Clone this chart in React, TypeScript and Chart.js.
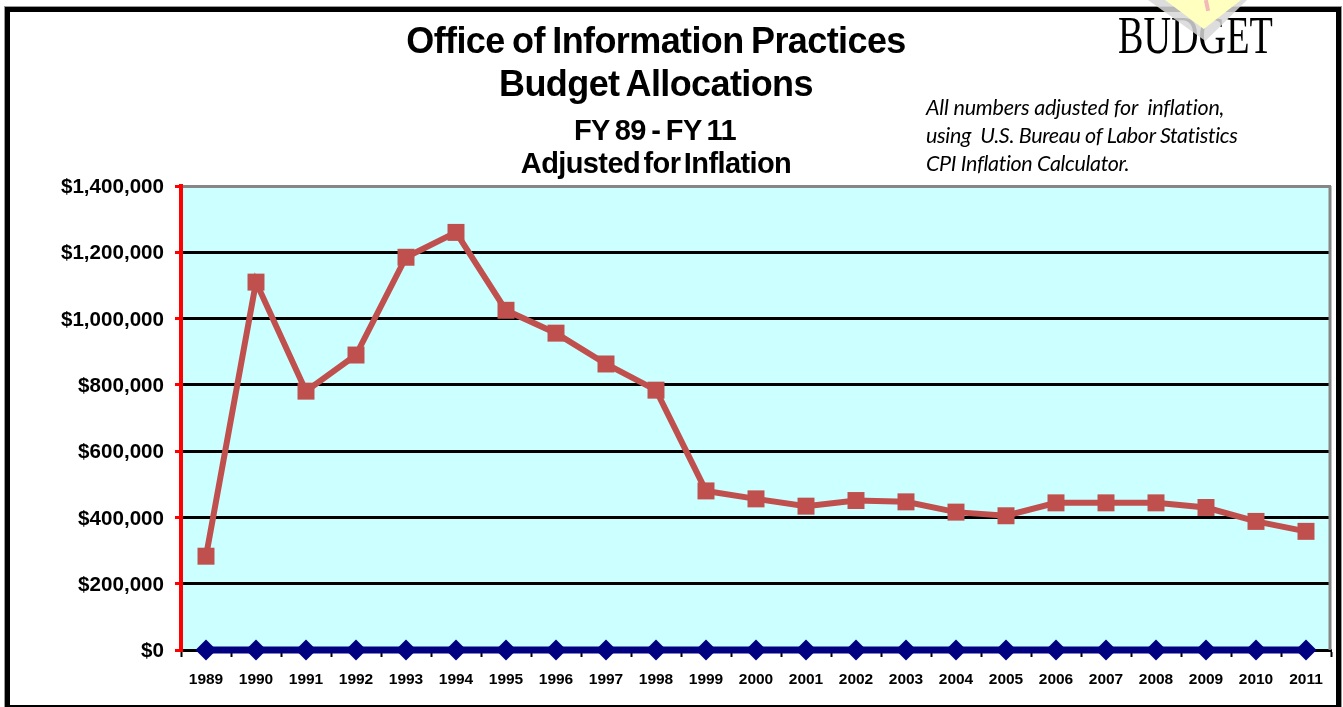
import React, { useEffect, useRef } from "react";
import { Chart, registerables } from "chart.js";

Chart.register(...registerables);

const years = ["1989","1990","1991","1992","1993","1994","1995","1996","1997","1998","1999","2000","2001","2002","2003","2004","2005","2006","2007","2008","2009","2010","2011"];
const allocations = [283000,1110000,781000,890000,1185000,1260000,1025000,956000,863000,784000,480000,456000,434000,451000,447000,416000,405000,444000,444000,444000,430000,388000,358000];
const baseline = [0,0,0,0,0,0,0,0,0,0,0,0,0,0,0,0,0,0,0,0,0,0,0];

const ARIAL = '"Liberation Sans", Arial, sans-serif';

const plotChrome = {
  id: "plotChrome",
  beforeDraw(chart: any) {
    const { ctx, chartArea: a } = chart;
    ctx.save();
    ctx.fillStyle = "#CCFFFF";
    ctx.fillRect(a.left, a.top, a.right - a.left, a.bottom - a.top);
    ctx.restore();
  },
  beforeDatasetsDraw(chart: any) {
    const { ctx, chartArea: a } = chart;
    ctx.save();
    ctx.strokeStyle = "#868686";
    ctx.lineWidth = 3;
    ctx.beginPath();
    ctx.moveTo(a.right - 1, a.top);
    ctx.lineTo(a.right - 1, a.bottom);
    ctx.stroke();
    ctx.restore();
  },
};

function Label({ text, x, y, size, bold, italic, center, spacing, wordSpacing, font }: any) {
  return (
    <div
      style={{
        position: "absolute",
        left: center ? x - 400 : x,
        top: y,
        width: center ? 800 : undefined,
        textAlign: center ? "center" : "left",
        fontFamily: font || ARIAL,
        fontSize: size,
        fontWeight: bold ? 700 : 400,
        fontStyle: italic ? "italic" : "normal",
        letterSpacing: spacing,
        wordSpacing,
        whiteSpace: "pre",
        lineHeight: 1,
        color: "#000",
      }}
    >
      {text}
    </div>
  );
}

export default function App() {
  const ref = useRef<HTMLCanvasElement>(null);
  useEffect(() => {
    document.body.style.margin = "0";
    document.body.style.background = "#fff";
    const chart = new Chart(ref.current as HTMLCanvasElement, {
      type: "line",
      data: {
        labels: years,
        datasets: [
          {
            label: "Budget",
            data: allocations,
            borderColor: "#C0504D",
            backgroundColor: "#C0504D",
            borderWidth: 6,
            pointStyle: "rect",
            pointRadius: 12,
            pointBackgroundColor: "#C0504D",
            pointBorderColor: "#C0504D",
            pointBorderWidth: 0,
            tension: 0,
            order: 1,
          },
          {
            label: "Baseline",
            data: baseline,
            borderColor: "#000080",
            backgroundColor: "#000080",
            borderWidth: 7,
            pointStyle: "rectRot",
            pointRadius: 10.5,
            pointBackgroundColor: "#000080",
            pointBorderColor: "#000080",
            pointBorderWidth: 0,
            tension: 0,
            clip: false,
            order: 2,
          },
        ],
      },
      options: {
        animation: false,
        responsive: false,
        layout: { padding: { top: 186, right: 12, left: 0, bottom: 0 } },
        plugins: { legend: { display: false }, title: { display: false }, tooltip: { enabled: false } },
        scales: {
          x: {
            type: "category",
            offset: true,
            afterFit(s: any) { s.height = 57; },
            border: { color: "#000", width: 3 },
            grid: { offset: true, drawOnChartArea: false, drawTicks: true, tickLength: 7, tickColor: "#000", tickWidth: 2 },
            ticks: { color: "#000", font: { family: ARIAL, size: 15.5, weight: "bold" }, padding: 13, maxRotation: 0, autoSkip: false },
          },
          y: {
            min: 0,
            max: 1400000,
            afterFit(s: any) { s.width = 181; },
            border: { color: "#FF0000", width: 4 },
            grid: {
              color: (c: any) => (c.tick && c.tick.value === 1400000 ? "#868686" : "#000"),
              lineWidth: 3,
              tickLength: 6,
              tickColor: "#FF0000",
              tickWidth: 3,
            },
            ticks: {
              stepSize: 200000,
              color: "#000",
              padding: 11,
              labelOffset: 1.5,
              font: { family: ARIAL, size: 20.6, weight: "bold" },
              callback: (v: any) => "$" + Number(v).toLocaleString("en-US"),
            },
          },
        },
      },
      plugins: [plotChrome],
    } as any);
    return () => chart.destroy();
  }, []);

  return (
    <div style={{ position: "relative", width: 1343, height: 707, overflow: "hidden", background: "#fff" }}>
      <canvas ref={ref} width={1343} height={707} style={{ position: "absolute", left: 0, top: 0, display: "block" }} />
      <div style={{ position: "absolute", left: 5, top: 7, width: 1336, height: 703, boxSizing: "border-box", border: "5px solid #000", outline: "1px solid #999" }} />
      <div style={{ position: "absolute", left: 1118, top: 9, fontFamily: '"Liberation Serif", serif', fontSize: 53, lineHeight: 1, whiteSpace: "pre", transformOrigin: "0 0", transform: "scaleX(0.72)", color: "#000" }}>BUDGET</div>
      <div style={{ position: "absolute", left: 1148, top: 0, width: 99, height: 41, background: "rgba(215,215,215,0.85)", clipPath: "polygon(0 0, 100% 0, 58% 100%)" }} />
      <div style={{ position: "absolute", left: 1165, top: 0, width: 76, height: 29, background: "#FFFFC0", clipPath: "polygon(0 0, 100% 0, 51% 100%)" }} />
      <div style={{ position: "absolute", left: 1205, top: 0, width: 4, height: 11, background: "#F4B8B8", transform: "rotate(-12deg)" }} />
      <Label text="Office of Information Practices" x={656} y={23} size={36} bold center spacing={-0.6} wordSpacing={-2} />
      <Label text="Budget Allocations" x={656} y={66} size={36} bold center spacing={-0.6} wordSpacing={-2} />
      <Label text="FY 89 - FY 11" x={655} y={116} size={29} bold center spacing={-0.6} wordSpacing={-2} />
      <Label text="Adjusted for Inflation" x={656} y={149} size={29} bold center spacing={-0.6} wordSpacing={-4} />
      <Label text="All numbers adjusted for  inflation," x={926} y={97} size={21.5} italic font="Lato" spacing={-0.2} />
      <Label text="using  U.S. Bureau of Labor Statistics" x={926} y={125} size={21.5} italic font="Lato" spacing={-0.35} />
      <Label text="CPI Inflation Calculator." x={926} y={153} size={21.5} italic font="Lato" spacing={-0.35} />
    </div>
  );
}
